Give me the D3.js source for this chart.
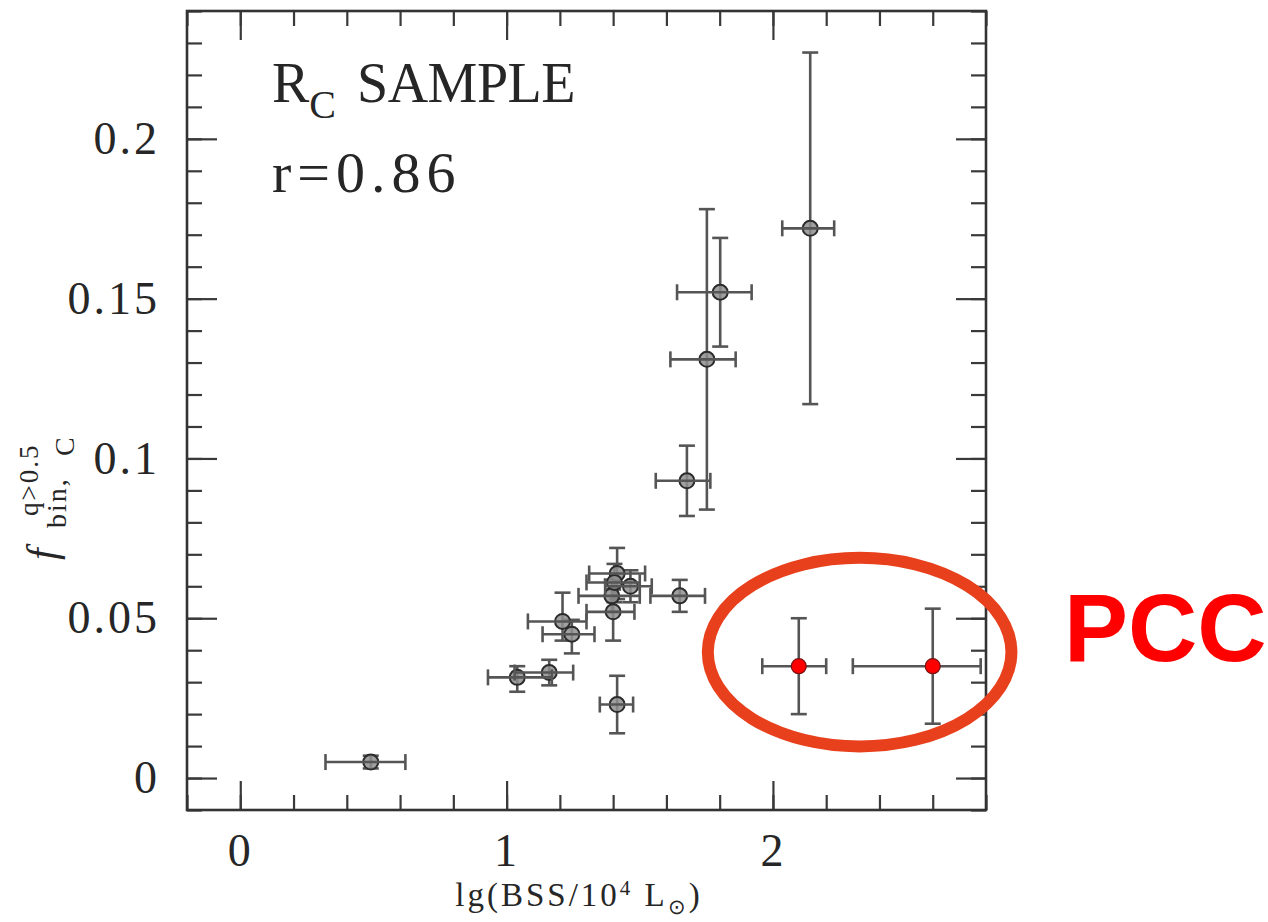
<!DOCTYPE html>
<html>
<head>
<meta charset="utf-8">
<script src="https://cdn.jsdelivr.net/npm/d3@7"></script>
<style>
  html, body { margin: 0; padding: 0; background: #fff; }
  svg { display: block; }
  .serif { font-family: "Liberation Serif", "Times New Roman", serif; fill: #262626; }
</style>
</head>
<body>
<svg id="chart" width="1268" height="922"></svg>
<script>
// Binary fraction (q > 0.5) versus BSS luminosity, R_C sample
const xMajorTicks = [0, 1, 2];
const xMinorTicks = d3.range(-0.2, 2.81, 0.2).map(v => +v.toFixed(2));
const yMajorTicks = [0, 0.05, 0.1, 0.15, 0.2];
const yMajorLabels = ["0", "0.05", "0.1", "0.15", "0.2"];
const yMinorTicks = d3.range(-0.01, 0.241, 0.01).map(v => +v.toFixed(3));

// cluster sample (grey points)
const clusterX    = [0.49, 1.04, 1.16, 1.21, 1.245, 1.40, 1.395, 1.415, 1.405, 1.465, 1.415, 1.65, 1.677, 1.752, 1.802, 2.14];
const clusterY    = [0.005, 0.0315, 0.033, 0.049, 0.045, 0.052, 0.057, 0.064, 0.0612, 0.060, 0.023, 0.057, 0.093, 0.131, 0.152, 0.172];
const clusterXLo  = [0.32, 0.93, 1.03, 1.08, 1.135, 1.30, 1.27, 1.31, 1.30, 1.37, 1.35, 1.54, 1.56, 1.615, 1.64, 2.035];
const clusterXHi  = [0.62, 1.17, 1.25, 1.30, 1.33, 1.48, 1.50, 1.52, 1.50, 1.545, 1.475, 1.745, 1.765, 1.86, 1.92, 2.23];
const clusterYLo  = [0.003, 0.027, 0.029, 0.043, 0.039, 0.043, 0.052, 0.056, 0.055, 0.055, 0.014, 0.052, 0.082, 0.084, 0.135, 0.117];
const clusterYHi  = [0.007, 0.035, 0.037, 0.058, 0.0495, 0.059, 0.062, 0.072, 0.067, 0.065, 0.032, 0.062, 0.104, 0.178, 0.169, 0.227];

// post-core-collapse clusters (red points)
const pccX   = [2.097, 2.60];
const pccY   = [0.035, 0.035];
const pccXLo = [1.96, 2.30];
const pccXHi = [2.20, 2.78];
const pccYLo = [0.020, 0.017];
const pccYHi = [0.050, 0.053];

// ellipse around the PCC points, in data units
const ringCenter = [2.3255, 0.0394];
const ringRadii = [0.570, 0.0295];

const svg = d3.select("#chart");
const W = 1268, H = 922;
svg.append("rect").attr("width", W).attr("height", H).attr("fill", "#fff");

const plotLeft = 187, plotRight = 986, plotTop = 11, plotBottom = 810;
const x = d3.scaleLinear().domain([-0.2, 2.8]).range([plotLeft, plotRight]);
const y = d3.scaleLinear().domain([-0.01, 0.24]).range([plotBottom, plotTop]);

const axisColor = "#3a3a3a";

function styleAxis(g) {
  g.select(".domain").remove();
  g.selectAll(".tick line").attr("stroke", axisColor).attr("stroke-width", 2.2);
}

// minor ticks on all four sides
svg.append("g").attr("transform", `translate(0,${plotBottom})`)
  .call(d3.axisBottom(x).tickValues(xMinorTicks).tickSizeInner(-15).tickSizeOuter(0).tickFormat(""))
  .call(styleAxis);
svg.append("g").attr("transform", `translate(0,${plotTop})`)
  .call(d3.axisTop(x).tickValues(xMinorTicks).tickSizeInner(-15).tickSizeOuter(0).tickFormat(""))
  .call(styleAxis);
svg.append("g").attr("transform", `translate(${plotLeft},0)`)
  .call(d3.axisLeft(y).tickValues(yMinorTicks).tickSizeInner(-15).tickSizeOuter(0).tickFormat(""))
  .call(styleAxis);
svg.append("g").attr("transform", `translate(${plotRight},0)`)
  .call(d3.axisRight(y).tickValues(yMinorTicks).tickSizeInner(-15).tickSizeOuter(0).tickFormat(""))
  .call(styleAxis);

// major ticks with labels
const xAxisG = svg.append("g").attr("transform", `translate(0,${plotBottom})`)
  .call(d3.axisBottom(x).tickValues(xMajorTicks).tickSizeInner(-29).tickSizeOuter(0)
    .tickPadding(23).tickFormat(d3.format("d")))
  .call(styleAxis);
svg.append("g").attr("transform", `translate(0,${plotTop})`)
  .call(d3.axisTop(x).tickValues(xMajorTicks).tickSizeInner(-29).tickSizeOuter(0).tickFormat(""))
  .call(styleAxis);
const yAxisG = svg.append("g").attr("transform", `translate(${plotLeft},0)`)
  .call(d3.axisLeft(y).tickValues(yMajorTicks).tickSizeInner(-30).tickSizeOuter(0)
    .tickPadding(27).tickFormat((d, i) => yMajorLabels[i]))
  .call(styleAxis);
svg.append("g").attr("transform", `translate(${plotRight},0)`)
  .call(d3.axisRight(y).tickValues(yMajorTicks).tickSizeInner(-30).tickSizeOuter(0).tickFormat(""))
  .call(styleAxis);

[xAxisG, yAxisG].forEach(g => g.selectAll(".tick text")
  .attr("class", "serif")
  .style("font-family", '"Liberation Serif", serif')
  .style("font-size", "46px")
  .style("letter-spacing", "3px")
  .attr("fill", "#262626"));

// frame
svg.append("rect")
  .attr("x", plotLeft).attr("y", plotTop)
  .attr("width", plotRight - plotLeft).attr("height", plotBottom - plotTop)
  .attr("fill", "none").attr("stroke", "#333").attr("stroke-width", 2.6);

// error bars
const barColor = "#555";
const cap = 8;
function drawErrorBars(g, xs, ys, xlo, xhi, ylo, yhi, which) {
  xs.forEach((xv, i) => {
    const cx = x(xv), cy = y(ys[i]);
    if (which !== "x") {
      g.append("line").attr("x1", cx).attr("x2", cx).attr("y1", y(ylo[i])).attr("y2", y(yhi[i]));
      g.append("line").attr("x1", cx - cap).attr("x2", cx + cap).attr("y1", y(ylo[i])).attr("y2", y(ylo[i]));
      g.append("line").attr("x1", cx - cap).attr("x2", cx + cap).attr("y1", y(yhi[i])).attr("y2", y(yhi[i]));
    }
    if (which !== "y") {
      g.append("line").attr("x1", x(xlo[i])).attr("x2", x(xhi[i])).attr("y1", cy).attr("y2", cy);
      g.append("line").attr("x1", x(xlo[i])).attr("x2", x(xlo[i])).attr("y1", cy - cap).attr("y2", cy + cap);
      g.append("line").attr("x1", x(xhi[i])).attr("x2", x(xhi[i])).attr("y1", cy - cap).attr("y2", cy + cap);
    }
  });
  g.attr("stroke", barColor).attr("stroke-width", 2.6).attr("fill", "none");
}

const clusterBarsV = svg.append("g");
drawErrorBars(clusterBarsV, clusterX, clusterY, clusterXLo, clusterXHi, clusterYLo, clusterYHi, "y");

svg.append("g").selectAll("circle")
  .data(clusterX)
  .join("circle")
  .attr("cx", d => x(d))
  .attr("cy", (d, i) => y(clusterY[i]))
  .attr("r", 7.5)
  .attr("fill", "#8f8f8f")
  .attr("fill-opacity", 0.85)
  .attr("stroke", "#2b2b2b")
  .attr("stroke-width", 2);

const clusterBarsH = svg.append("g");
drawErrorBars(clusterBarsH, clusterX, clusterY, clusterXLo, clusterXHi, clusterYLo, clusterYHi, "x");

const pccBars = svg.append("g");
drawErrorBars(pccBars, pccX, pccY, pccXLo, pccXHi, pccYLo, pccYHi, "both");

svg.append("g").selectAll("circle")
  .data(pccX)
  .join("circle")
  .attr("cx", d => x(d))
  .attr("cy", (d, i) => y(pccY[i]))
  .attr("r", 7.5)
  .attr("fill", "#ff0000")
  .attr("stroke", "#7a1010")
  .attr("stroke-width", 1.2);

// annotation ring
svg.append("ellipse")
  .attr("cx", x(ringCenter[0]))
  .attr("cy", y(ringCenter[1]))
  .attr("rx", x(ringCenter[0] + ringRadii[0]) - x(ringCenter[0]))
  .attr("ry", y(ringCenter[1] - ringRadii[1]) - y(ringCenter[1]))
  .attr("fill", "none")
  .attr("stroke", "#e8401c")
  .attr("stroke-width", 12);

svg.append("text")
  .attr("x", 1064).attr("y", 661)
  .style("font-family", '"Liberation Sans", Arial, sans-serif')
  .style("font-weight", "bold")
  .style("font-size", "96px")
  .attr("fill", "#ff0000")
  .text("PCC");

// sample label
const title = svg.append("text").attr("class", "serif")
  .attr("x", 272).attr("y", 102)
  .style("font-size", "56px");
title.append("tspan").text("R");
title.append("tspan").attr("dy", 16).style("font-size", "40px").text("C");
title.append("tspan").attr("x", 357).attr("dy", -16).style("letter-spacing", "-0.5px").text("SAMPLE");

svg.append("text").attr("class", "serif")
  .attr("x", 272).attr("y", 192)
  .style("font-size", "58px")
  .style("letter-spacing", "6px")
  .text("r=0.86");

// x-axis title
const xt = svg.append("text").attr("class", "serif")
  .attr("x", 579).attr("y", 906)
  .attr("text-anchor", "middle")
  .style("font-size", "33px")
  .style("letter-spacing", "3px");
xt.append("tspan").text("lg(BSS/10");
xt.append("tspan").attr("dy", -11).style("font-size", "21px").text("4");
xt.append("tspan").attr("dy", 11).text(" L");
xt.append("tspan").attr("dy", 8).style("font-size", "21px").text("\u2299");
xt.append("tspan").attr("dy", -8).text(")");

// y-axis title, rotated
const yt = svg.append("g").attr("transform", "translate(0,560) rotate(-90)");
yt.append("text").attr("class", "serif")
  .attr("x", 0).attr("y", 56)
  .style("font-size", "42px").style("font-style", "italic")
  .text("f");
yt.append("text").attr("class", "serif")
  .attr("x", 44).attr("y", 38)
  .style("font-size", "27px").style("letter-spacing", "2px")
  .text("q>0.5");
const ysub = yt.append("text").attr("class", "serif")
  .attr("x", 32).attr("y", 66)
  .style("font-size", "28px").style("letter-spacing", "2px");
ysub.append("tspan").text("bin,");
ysub.append("tspan").attr("x", 104).attr("dy", 8).text("C");
</script>
</body>
</html>
